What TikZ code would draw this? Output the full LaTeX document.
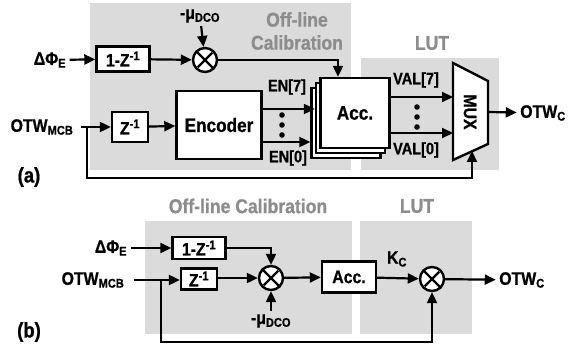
\documentclass[tikz,border=0pt]{standalone}
\usepackage{fontspec}
\setmainfont{Liberation Sans}[FakeStretch=0.88,BoldFeatures={FakeBold=0.8}]
\usetikzlibrary{arrows.meta}
\definecolor{calgray}{gray}{0.86}
\definecolor{titlegray}{gray}{0.55}

\begin{document}
\begin{tikzpicture}[x=1pt,y=-1pt,font=\fontsize{18}{20}\selectfont\bfseries]
                \tikzstyle{blk}=[draw,line width=2.4pt,fill=white,inner sep=0pt]
                \tikzstyle{mult}=[draw,circle,line width=2.4pt,fill=white,minimum size=24pt,inner sep=0pt]
                \tikzstyle{sig}=[line width=2.2pt,-{Triangle[length=11pt,width=10pt]}]
                \tikzstyle{wire}=[line width=2.4pt]
                \tikzstyle{title}=[text=titlegray,font=\fontsize{20}{23}\selectfont\bfseries]
                \tikzstyle{small}=[font=\fontsize{16.5}{18}\selectfont\bfseries]
                \newcommand\multx[3]{\node[mult] at (#2,#3) (#1) {};%
                \draw[wire,shorten <=3pt,shorten >=3pt] (#1.north west) -- (#1.south east) (#1.north east) -- (#1.south west);}
                \newcommand\vdotsat[2]{\foreach \dy in {-10,0,10} \fill (#1,#2+\dy) circle (2.8pt);}
                \useasboundingbox (0,0) rectangle (582,353);
                % (a)
                \fill[calgray] (90,3) rectangle (351,170);
                \fill[calgray] (361,58) rectangle (499,170);
                \node[title,align=center] at (297,31) {Off-line\\Calibration};
                \node[title] at (432,43) {LUT};
                \node at (50,60) (dphiA) {ΔΦ\textsubscript{E}};
                \node at (42,127) (otwA) {OTW\textsubscript{MCB}};
                \node at (200,16) (muA) {-μ\textsubscript{DCO}};
                \node[blk,minimum width=53pt,minimum height=25pt] at (123,59) (onezA) {1-Z\textsuperscript{-1}};
                \node[blk,minimum width=36pt,minimum height=30pt] at (130,127) (zA) {Z\textsuperscript{-1}};
                \node[blk,minimum width=85pt,minimum height=68pt,font=\fontsize{19.5}{21}\selectfont\bfseries] at (219,125) (enc) {Encoder};
                \node[blk,minimum width=69pt,minimum height=70pt] at (346,123) (acc3) {};
                \node[blk,minimum width=69pt,minimum height=70pt] at (350.5,118) (acc2) {};
                \node[blk,minimum width=69pt,minimum height=70pt,font=\fontsize{19.5}{21}\selectfont\bfseries] at (355,113) (acc) {Acc.};
                \multx{multA}{205}{60}
                \draw[line width=2.4pt,fill=white] (453,63) -- (488,81) -- (488,144) -- (453,160) -- cycle;
                \node[rotate=-90] at (470,112) (mux) {MUX};
                \coordinate (mux7) at (453,97);
                \coordinate (mux0) at (453,133);
                \coordinate (muxout) at (488,112);
                \coordinate (muxsel) at (472,151);
                \coordinate (brA) at (87,127);
                \node at (543,113) (otwcA) {OTW\textsubscript{C}};
                \node[small] at (287,87) (en7) {EN[7]};
                \node[small] at (288,158) (en0) {EN[0]};
                \node[small] at (416,80) (val7) {VAL[7]};
                \node[small] at (416,150) (val0) {VAL[0]};
                \node[font=\fontsize{21}{22}\selectfont\bfseries] at (29,177) (la) {(a)};
                \vdotsat{282}{125}
                \vdotsat{417}{117}
                \draw[sig] (dphiA) -- (onezA);
                \draw[sig] (onezA) -- (multA);
                \draw[sig] (muA) -- (multA);
                \draw[sig] (multA) -| ([xshift=-17pt]acc.north);
                \draw[sig] (otwA.east) ++(4,0) -- (zA);
                \draw[sig] (brA) |- (472,178) -- (muxsel);
                \draw[sig] (zA) -- (enc);
                \draw[sig] (enc.east |- 0,109) -- (acc2.west |- 0,109);
                \draw[sig] (enc.east |- 0,142) -- (acc3.west |- 0,142);
                \draw[sig] (acc.east |- mux7) -- (mux7);
                \draw[sig] (acc.east |- mux0) -- (mux0);
                \draw[sig] (muxout) -- (otwcA);
                % (b)
                \fill[calgray] (145,221) rectangle (352,334);
                \fill[calgray] (360,221) rectangle (472,334);
                \node[title] at (248,206) {Off-line Calibration};
                \node[title] at (417,206) {LUT};
                \node at (111,248) (dphiB) {ΔΦ\textsubscript{E}};
                \node at (93,280) (otwB) {OTW\textsubscript{MCB}};
                \node at (271,321) (muB) {-μ\textsubscript{DCO}};
                \node[blk,minimum width=53pt,minimum height=22pt] at (199,248) (onezB) {1-Z\textsuperscript{-1}};
                \node[blk,minimum width=36pt,minimum height=21pt] at (199,279) (zB) {Z\textsuperscript{-1}};
                \node[blk,minimum width=54pt,minimum height=31pt] at (349,277) (accB) {Acc.};
                \multx{multB}{271}{278}
                \multx{multK}{432}{279}
                \node at (397,259) (kc) {K\textsubscript{C}};
                \node at (522,280) (otwcB) {OTW\textsubscript{C}};
                \node[font=\fontsize{21}{22}\selectfont\bfseries] at (29,332) (lb) {(b)};
                \coordinate (brB) at (161,280);
                \draw[sig] (dphiB) -- (onezB);
                \draw[sig] (onezB) -| (multB);
                \draw[sig] (otwB.east) ++(6,0) -- (zB.west |- brB);
                \draw[sig] (zB.east |- multB) -- (multB);
                \draw[sig] (muB) -- (multB);
                \draw[sig] (multB) -- (accB);
                \draw[sig] (accB) -- (multK);
                \draw[sig] (multK) -- (otwcB);
                \draw[sig] (brB) |- (432,342) -- (multK);
            \end{tikzpicture}
\end{document}
